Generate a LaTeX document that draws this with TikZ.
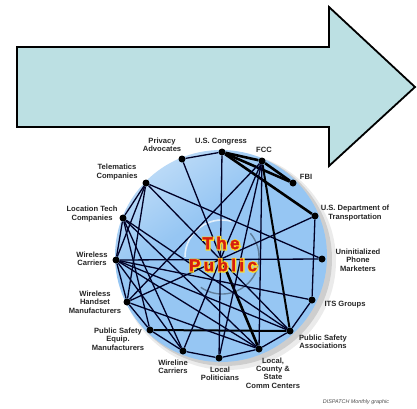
\documentclass[tikz,border=0pt]{standalone}
\usepackage{fontspec}
\setmainfont{Liberation Sans}
\newfontfamily\pubfont[LetterSpace=20,FakeBold=2]{Liberation Sans Bold}
\newfontfamily\pubhalo[LetterSpace=20,FakeBold=14]{Liberation Sans Bold}
\usepackage{xcolor}

\definecolor{arrowfill}{RGB}{188,224,227}
\definecolor{discblue}{RGB}{150,198,243}
\definecolor{pubred}{RGB}{214,30,16}
\definecolor{pubyellow}{RGB}{252,220,40}

\pgfdeclareverticalshading{discshade}{100bp}{color(0bp)=(discblue); color(60bp)=(discblue); color(82bp)=(discblue!50!white); color(100bp)=(white)}

\tikzset{
  dot/.style={circle,fill=black,inner sep=0pt,minimum size=7pt},
  lbl/.style={font=\fontsize{7.6}{8.4}\selectfont\bfseries,align=center,inner sep=0pt,text=black!85},
  link/.style={line width=1.3pt,draw=black!85!blue},
  heavy/.style={line width=2.6pt,draw=black},
  pubtext/.style={font=\pubfont\fontsize{17}{17}\selectfont,inner sep=0pt,text=pubred},
  pubrim/.style={font=\pubhalo\fontsize{17}{17}\selectfont,inner sep=0pt,text=pubyellow}
}

\begin{document}
\begin{tikzpicture}[x=1pt,y=-1pt]
            \useasboundingbox (0,0) rectangle (417,408);

            % disc and its shadow
            \fill[black,opacity=0.08] (227,261) circle (109);
            \fill[black,opacity=0.12] (225,259) circle (107);
            \shade[shading=discshade,shading angle=35] (221,256) circle (106);
            \draw[white,opacity=0.75,line width=1.6pt] (222,257) ++(180:37) arc (180:285:37);
            \draw[black!45!discblue,opacity=0.8,line width=1.4pt] (222,257) ++(-40:37) arc (-40:125:37);

            \node[dot] (pa) at (182,159) {};
            \node[dot] (cg) at (222,152) {};
            \node[dot] (fcc) at (262,161) {};
            \node[dot] (fbi) at (293,183) {};
            \node[dot] (dot) at (315,216) {};
            \node[dot] (upm) at (322,259) {};
            \node[dot] (its) at (312,300) {};
            \node[dot] (psa) at (290,331) {};
            \node[dot] (lcs) at (259,349) {};
            \node[dot] (lp) at (219,358) {};
            \node[dot] (wlc) at (183,351) {};
            \node[dot] (pse) at (150,330) {};
            \node[dot] (whm) at (127,302) {};
            \node[dot] (wc) at (116,260) {};
            \node[dot] (ltc) at (123,218) {};
            \node[dot] (tc) at (146,183) {};
            \coordinate (pub) at (221,258);

            \draw[heavy] (cg) -- (fcc);
            \draw[heavy] (cg) -- (fbi);
            \draw[heavy] (fcc) -- (fbi);
            \draw[heavy] (cg) -- (dot);
            \draw[heavy,line width=2pt] (fcc) -- (psa);
            \draw[heavy] (pub) -- (lcs);
            \draw[heavy,line width=2pt] (pse) -- (psa);

            \draw[link] (pa) -- (cg);
            \draw[link] (pa) -- (pub);
            \draw[link] (cg) -- (lp);
            \draw[link] (fcc) -- (pub);
            \draw[link] (fcc) -- (whm);
            \draw[link] (fcc) -- (lp);
            \draw[link] (fcc) -- (lcs);
            \draw[link] (dot) -- (its);
            \draw[link] (dot) -- (whm);
            \draw[link] (its) -- (psa);
            \draw[link] (psa) -- (lcs);
            \draw[link] (lcs) -- (lp);
            \draw[link] (lp) -- (wlc);
            \draw[link] (wlc) -- (pse);
            \draw[link] (pse) -- (whm);
            \draw[link] (whm) -- (wc);
            \draw[link] (wc) -- (ltc);
            \draw[link] (ltc) -- (tc);
            \draw[link] (tc) -- (wc);
            \draw[link] (tc) -- (whm);
            \draw[link] (tc) -- (upm);
            \draw[link] (tc) -- (psa);
            \draw[link] (ltc) -- (psa);
            \draw[link] (ltc) -- (lcs);
            \draw[link] (wc) -- (psa);
            \draw[link] (wc) -- (lcs);
            \draw[link] (wc) -- (upm);
            \draw[link] (wc) -- (its);
            \draw[link] (wlc) -- (wc);
            \draw[link] (wlc) -- (ltc);
            \draw[link] (pse) -- (ltc);
            \draw[link] (whm) -- (lcs);
            \draw[link] (wlc) -- (pub);

            % the public, yellow rim under red letters
            \node[pubrim] (rimthe) at (221.4,243.4) {The};
            \node[pubrim] (rimpub) at (223.4,265.4) {Public};
            \node[pubtext] (pubthe) at (221,243) {The};
            \node[pubtext] (pubword) at (223,265) {Public};

            \node[lbl] (palbl) at (162,145) {Privacy\\Advocates};
            \node[lbl] (cglbl) at (221,142) {U.S. Congress};
            \node[lbl] (fcclbl) at (264,150) {FCC};
            \node[lbl] (fbilbl) at (306,177) {FBI};
            \node[lbl] (dotlbl) at (355,213) {U.S. Department of\\Transportation};
            \node[lbl] (upmlbl) at (358,260) {Uninitialized\\Phone\\Marketers};
            \node[lbl] (itslbl) at (345,305) {ITS Groups};
            \node[lbl] (psalbl) at (323,342) {Public Safety\\Associations};
            \node[lbl] (lcslbl) at (273,373) {Local,\\County \&\\State\\Comm Centers};
            \node[lbl] (lplbl) at (220,374) {Local\\Politicians};
            \node[lbl] (wlclbl) at (173,367) {Wireline\\Carriers};
            \node[lbl] (pselbl) at (118,339) {Public Safety\\Equip.\\Manufacturers};
            \node[lbl] (whmlbl) at (95,302) {Wireless\\Handset\\Manufacturers};
            \node[lbl] (wclbl) at (92,259) {Wireless\\Carriers};
            \node[lbl] (ltclbl) at (92,214) {Location Tech\\Companies};
            \node[lbl] (tclbl) at (117,172) {Telematics\\Companies};
            \node[font=\fontsize{5.4}{6}\selectfont\itshape,text=black!70,inner sep=0pt] (credit) at (356,402) {DISPATCH Monthly graphic};

            % big arrow on top
            \draw[fill=arrowfill,line width=1.8pt,line join=miter] (17,47) -- (329,47) -- (329,7) -- (415,87) -- (329,166) -- (329,127) -- (17,127) -- cycle;
        \end{tikzpicture}
\end{document}
